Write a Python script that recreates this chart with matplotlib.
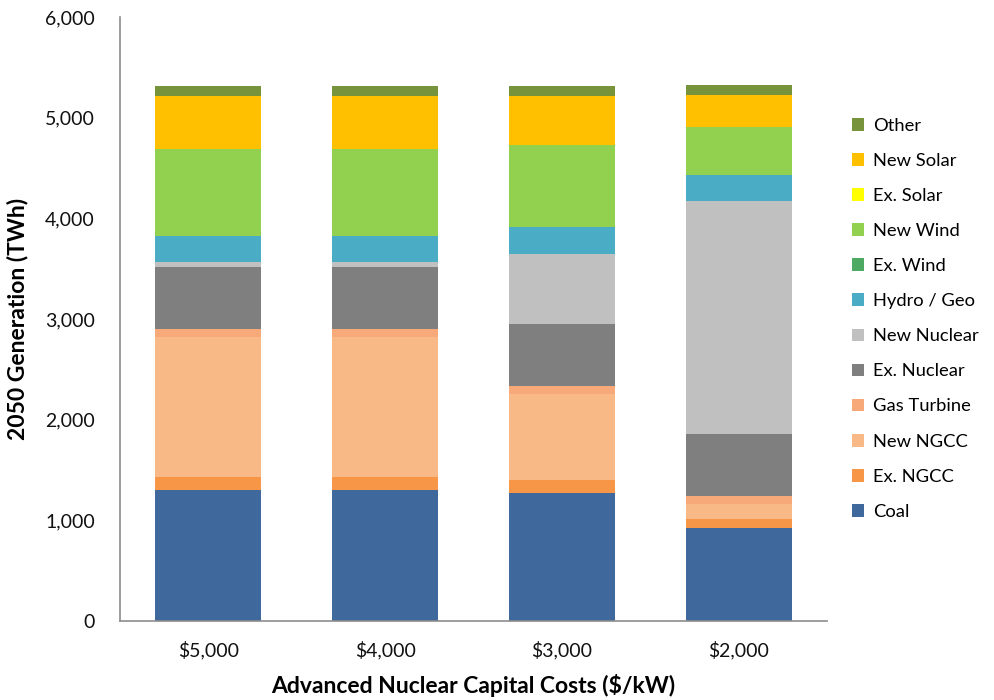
import matplotlib.pyplot as plt
import numpy as np

plt.rcParams['font.family'] = ['Lato', 'DejaVu Sans']

# Capital cost scenarios (x axis)
scenarios = ["$5,000", "$4,000", "$3,000", "$2,000"]

# 2050 generation by source, TWh (bottom to top of each stack)
coal         = [1304, 1304, 1271,  927]
ex_ngcc      = [ 126,  126,  130,   86]
new_ngcc     = [1391, 1391,  854,  149]
gas_turbine  = [  77,   77,   76,   80]
ex_nuclear   = [ 621,  621,  622,  616]
new_nuclear  = [  50,   50,  693, 2317]
hydro_geo    = [ 258,  258,  268,  258]
ex_wind      = [   0,    0,    0,    0]
new_wind     = [ 862,  862,  811,  471]
ex_solar     = [   0,    0,    0,    0]
new_solar    = [ 523,  523,  493,  321]
other        = [  98,   98,   99,   99]

series = [
    ("Coal", coal, "#3F689C"),
    ("Ex. NGCC", ex_ngcc, "#F79646"),
    ("New NGCC", new_ngcc, "#F9B987"),
    ("Gas Turbine", gas_turbine, "#F8A97A"),
    ("Ex. Nuclear", ex_nuclear, "#7F7F7F"),
    ("New Nuclear", new_nuclear, "#C0C0C0"),
    ("Hydro / Geo", hydro_geo, "#4BACC6"),
    ("Ex. Wind", ex_wind, "#4EAA62"),
    ("New Wind", new_wind, "#92D050"),
    ("Ex. Solar", ex_solar, "#FFFF00"),
    ("New Solar", new_solar, "#FFC000"),
    ("Other", other, "#77933C"),
]

fig = plt.figure(figsize=(9.95, 7), dpi=100)
ax = fig.add_axes([0.1206, 0.1129, 0.7106, 0.8628])

x = np.arange(len(scenarios))
bottom = np.zeros(len(scenarios))
for name, vals, color in series:
    vals = np.array(vals, dtype=float)
    ax.bar(x, vals, width=0.6, bottom=bottom, color=color, label=name,
           edgecolor="none")
    bottom += vals

ax.set_xlim(-0.5, 3.5)
ax.set_ylim(0, 6000)
ax.set_yticks(np.arange(0, 6001, 1000))
ax.yaxis.set_major_formatter(plt.FuncFormatter(lambda v, p: f"{int(v):,}"))
ax.set_xticks(x)
ax.set_xticklabels(scenarios)
ax.tick_params(length=0, labelsize=14, colors="#111111")
ax.tick_params(axis="y", pad=18)
ax.tick_params(axis="x", pad=14)

for s in ["top", "right"]:
    ax.spines[s].set_visible(False)
for s in ["left", "bottom"]:
    ax.spines[s].set_color("#8C8C8C")
    ax.spines[s].set_linewidth(1.2)

ax.set_xlabel("Advanced Nuclear Capital Costs ($/kW)", fontsize=16.5,
              fontweight="bold", labelpad=11)
ax.set_ylabel("2050 Generation (TWh)", fontsize=16.5, fontweight="bold",
              labelpad=12)

handles, labels = ax.get_legend_handles_labels()
fig.legend(handles[::-1], labels[::-1], loc="upper left",
           bbox_to_anchor=(0.8485, 0.842), frameon=False, fontsize=13.2,
           handlelength=0.7, handleheight=0.7, handletextpad=0.45,
           labelspacing=1.04, borderaxespad=0)

fig.savefig("out.png", dpi=100)
